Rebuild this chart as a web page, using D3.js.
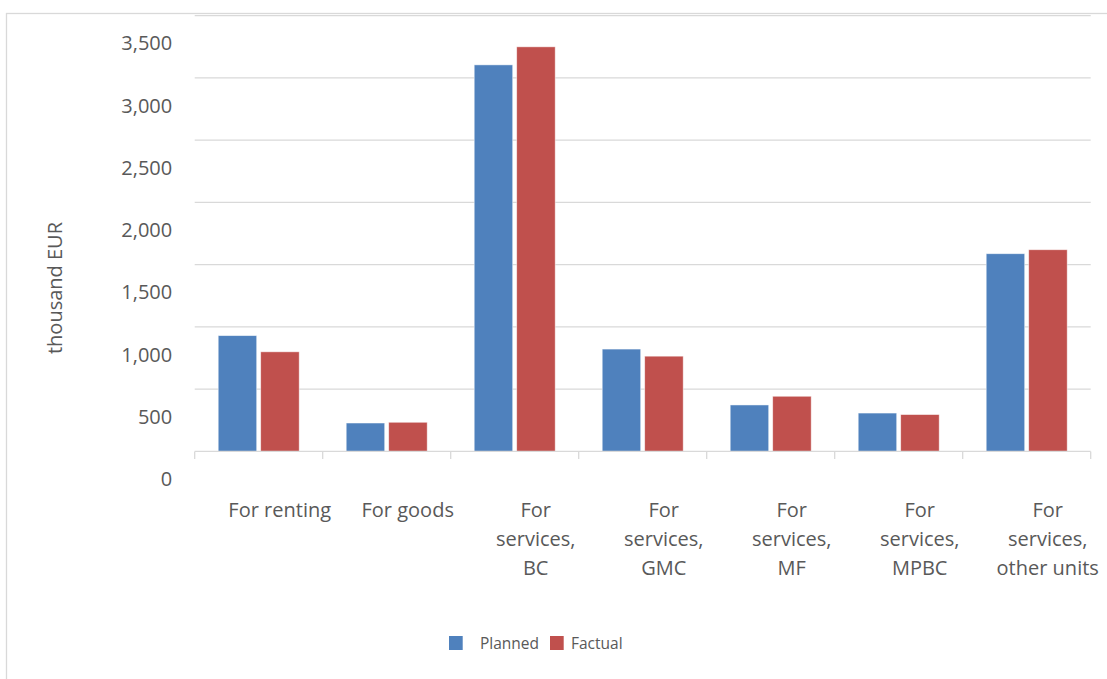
<!DOCTYPE html>
<html>
<head>
<meta charset="utf-8">
<script src="https://cdn.jsdelivr.net/npm/d3@7"></script>
<style>
  html, body { margin: 0; padding: 0; background: #ffffff; }
  svg { display: block; font-family: "Open Sans", "Liberation Sans", sans-serif; }
</style>
</head>
<body>
<svg id="chart" width="1107" height="679"></svg>
<script>
// ---- data ----
const categories = ["For renting", "For goods", "For services, BC", "For services, GMC", "For services, MF", "For services, MPBC", "For services, other units"];
const categoryLines = [["For renting"], ["For goods"], ["For", "services,", "BC"], ["For", "services,", "GMC"], ["For", "services,", "MF"], ["For", "services,", "MPBC"], ["For", "services,", "other units"]];
const seriesNames = ["Planned", "Factual"];
const planned = [930, 228, 3105, 822, 373, 308, 1588];
const factual = [800, 234, 3250, 765, 443, 296, 1620];
const yTicks = [0, 500, 1000, 1500, 2000, 2500, 3000, 3500];
const yTitle = "thousand EUR";
const colors = ["#4F81BD", "#C0504D"];

// ---- layout ----
const svg = d3.select("#chart");
const plotLeft = 194.7, plotRight = 1090.7, plotTop = 15.7, plotBottom = 451.4;
const textColor = "#595959", gridColor = "#d9d9d9";

// chart frame
svg.append("rect").attr("x", 6.5).attr("y", 13.5).attr("width", 1120).attr("height", 700)
  .attr("fill", "#fff").attr("stroke", gridColor).attr("stroke-width", 1.3);

const x0 = d3.scaleBand().domain(categories).range([plotLeft, plotRight]).padding(0);
const x1 = d3.scaleBand().domain(seriesNames).range([23.5, 104.5]).paddingInner(0.094).paddingOuter(0);
const y = d3.scaleLinear().domain([0, 3500]).range([plotBottom, plotTop]);

// gridlines
svg.append("g").selectAll("line").data(yTicks.filter(d => d > 0)).join("line")
  .attr("x1", plotLeft).attr("x2", plotRight)
  .attr("y1", d => y(d)).attr("y2", d => y(d))
  .attr("stroke", gridColor).attr("stroke-width", 1.3);

// y axis labels (offset downward as in reference)
const yAxis = svg.append("g").attr("transform", `translate(${plotLeft - 22.5},27.8)`)
  .call(d3.axisLeft(y).tickValues(yTicks).tickSize(0).tickPadding(0).tickFormat(d3.format(",")));
yAxis.select(".domain").remove();
yAxis.selectAll("text").attr("fill", textColor).style("font-size", "20px")
  .style("font-family", "'Open Sans', sans-serif");

// y title
svg.append("text").attr("transform", "translate(62,288) rotate(-90)")
  .attr("text-anchor", "middle").attr("fill", textColor).style("font-size", "20px")
  .text(yTitle);

// bars
const data = categories.map((c, i) => ({ cat: c, vals: [planned[i], factual[i]] }));
const groups = svg.append("g").selectAll("g").data(data).join("g")
  .attr("transform", d => `translate(${x0(d.cat)},0)`);
groups.selectAll("rect").data(d => d.vals.map((v, j) => ({ s: seriesNames[j], v, j }))).join("rect")
  .attr("x", d => x1(d.s)).attr("width", x1.bandwidth())
  .attr("y", d => y(d.v)).attr("height", d => y(0) - y(d.v))
  .attr("fill", d => colors[d.j]).attr("stroke", "#ffffff").attr("stroke-width", 0.8).attr("stroke-opacity", 0.6);

// x axis line and ticks
svg.append("line").attr("x1", plotLeft).attr("x2", plotRight)
  .attr("y1", plotBottom).attr("y2", plotBottom).attr("stroke", gridColor).attr("stroke-width", 1.3);
const tickPos = categories.map(c => x0(c)).concat([x0.range()[1]]);
svg.append("g").selectAll("line").data(tickPos).join("line")
  .attr("x1", d => d).attr("x2", d => d).attr("y1", plotBottom).attr("y2", plotBottom + 7.5)
  .attr("stroke", gridColor).attr("stroke-width", 1.3);

// category labels
const labels = svg.append("g").selectAll("text").data(categories).join("text")
  .attr("text-anchor", "middle").attr("fill", textColor).style("font-size", "20px")
  .attr("transform", c => `translate(${x0(c) + x0.bandwidth() / 2 + 21},517)`);
labels.each(function (c, i) {
  d3.select(this).selectAll("tspan").data(categoryLines[i]).join("tspan")
    .attr("x", 0).attr("y", (d, k) => k * 28.8).text(d => d);
});

// legend
const legendX = [449, 550];
const legend = svg.append("g").selectAll("g").data(seriesNames).join("g")
  .attr("transform", (d, i) => `translate(${legendX[i]},636)`);
legend.append("rect").attr("width", 13.7).attr("height", 14).attr("fill", (d, i) => colors[i]);
legend.append("text").attr("x", (d, i) => i === 0 ? 31 : 21).attr("y", 12.5)
  .attr("fill", textColor).style("font-size", "15.5px").text(d => d);
</script>
</body>
</html>
